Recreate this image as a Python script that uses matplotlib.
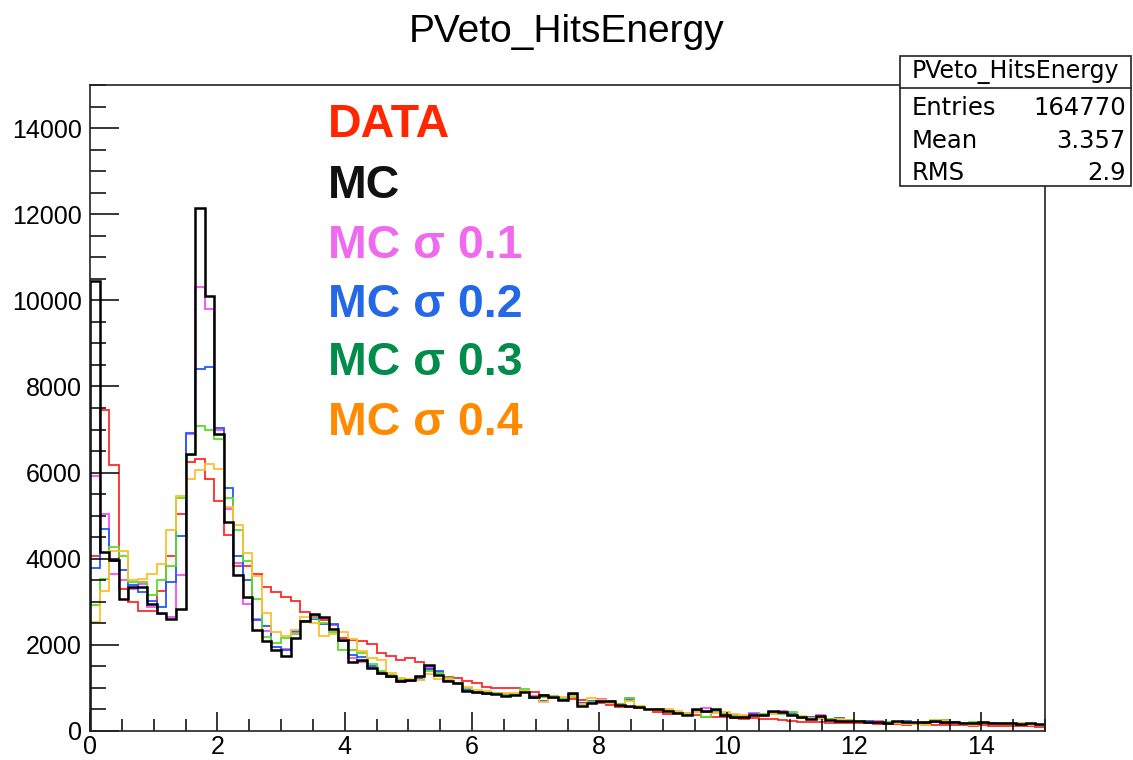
import numpy as np
import matplotlib
matplotlib.use('Agg')
import matplotlib.pyplot as plt
from matplotlib.ticker import MultipleLocator
from matplotlib.patches import Rectangle

# histogram contents, 100 bins of 0.15 from 0 to 15
data = [4060, 7450, 6180, 3300, 2990, 2790, 2780, 3250, 4060, 5050,
        6250, 6310, 5840, 5330, 4540, 3830, 3830, 3640, 3340, 3230,
        3120, 3030, 2770, 2680, 2580, 2450, 2150, 2120, 2080, 2020,
        1800, 1740, 1660, 1690, 1610, 1450, 1380, 1260, 1220, 1150,
        1110, 1030, 1010, 990, 990, 930, 910, 840, 800, 760,
        740, 720, 680, 660, 600, 565, 550, 525, 500, 450,
        395, 410, 425, 370, 335, 315, 315, 295, 285, 295,
        270, 270, 255, 230, 220, 215, 200, 195, 190, 180,
        175, 180, 165, 160, 170, 150, 155, 140, 135, 150,
        130, 140, 125, 130, 120, 125, 110, 115, 105, 95]

mc = [10450, 4150, 3980, 3070, 3340, 3340, 2950, 2740, 2600, 2840,
      6440, 12140, 10090, 6900, 4850, 3630, 3100, 2350, 2080, 1870,
      1745, 2150, 2560, 2720, 2650, 2380, 2120, 1610, 1650, 1455,
      1340, 1280, 1150, 1185, 1280, 1530, 1300, 1150, 1110, 940,
      910, 875, 860, 820, 836, 913, 797, 836, 782, 720,
      875, 581, 642, 704, 700, 604, 581, 550, 503, 519,
      472, 426, 379, 503, 472, 503, 371, 333, 333, 364,
      371, 472, 440, 371, 317, 271, 348, 255, 232, 232,
      232, 201, 201, 178, 225, 217, 201, 201, 232, 217,
      201, 186, 178, 201, 178, 193, 178, 155, 193, 155]

mc_s01 = [5920, 5050, 3640, 3500, 3300, 3420, 2890, 2720, 2640, 3630,
          6900, 10320, 9810, 7000, 5150, 3900, 2950, 2600, 2330, 1950,
          1910, 2300, 2550, 2650, 2620, 2450, 2100, 1700, 1600, 1470,
          1330, 1250, 1130, 1160, 1250, 1480, 1350, 1180, 1120, 930,
          890, 880, 860, 850, 870, 937, 820, 800, 760, 730,
          820, 640, 660, 743, 690, 610, 774, 560, 520, 500,
          470, 440, 400, 470, 526, 480, 390, 360, 340, 420,
          390, 430, 460, 380, 330, 300, 360, 280, 250, 240,
          220, 210, 230, 200, 220, 200, 190, 180, 210, 230,
          200, 170, 190, 215, 185, 170, 160, 180, 150, 140]

mc_s02 = [3790, 4700, 3950, 3730, 3400, 3230, 3030, 2880, 3460, 4530,
          6920, 8410, 8450, 7040, 5650, 4060, 3500, 2570, 2430, 1950,
          1890, 2330, 2560, 2600, 2480, 2480, 2100, 1770, 1720, 1500,
          1380, 1260, 1180, 1150, 1200, 1450, 1400, 1180, 1090, 950,
          900, 870, 850, 830, 860, 900, 770, 697, 800, 740,
          840, 650, 690, 680, 640, 620, 720, 560, 510, 490,
          470, 420, 410, 480, 450, 470, 380, 370, 350, 390,
          360, 420, 430, 390, 320, 330, 300, 270, 300, 250,
          200, 230, 210, 190, 200, 230, 190, 180, 200, 190,
          210, 180, 170, 180, 190, 160, 170, 150, 160, 130]

mc_s03 = [2920, 3540, 4270, 4060, 3460, 3460, 3160, 3510, 3830, 5410,
          6400, 7080, 7000, 6790, 5400, 4660, 3940, 3070, 2180, 2050,
          2150, 2250, 2520, 2620, 2500, 2300, 1880, 1880, 1800, 1550,
          1400, 1290, 1200, 1180, 1180, 1400, 1350, 1220, 1120, 1000,
          900, 900, 880, 840, 850, 968, 780, 790, 810, 760,
          800, 630, 670, 700, 650, 630, 774, 580, 500, 520,
          480, 450, 390, 440, 320, 440, 400, 340, 330, 360,
          400, 390, 400, 430, 310, 290, 330, 290, 260, 230,
          240, 210, 200, 210, 190, 200, 190, 200, 260, 250,
          190, 180, 200, 180, 170, 190, 175, 160, 170, 140]

mc_s04 = [2530, 3250, 4180, 4180, 3500, 3540, 3640, 3870, 4660, 5450,
          5850, 6070, 6210, 6080, 5200, 4780, 4140, 3600, 2740, 2300,
          2200, 2340, 2650, 2500, 2200, 2250, 2300, 2130, 1850, 1700,
          1650, 1350, 1230, 1200, 1180, 1320, 1200, 1200, 1100, 1020,
          960, 920, 870, 880, 880, 940, 800, 681, 790, 780,
          810, 620, 775, 720, 660, 600, 690, 590, 520, 480,
          500, 460, 420, 450, 470, 420, 440, 400, 370, 380,
          350, 400, 410, 360, 340, 310, 290, 260, 270, 250,
          210, 220, 200, 190, 180, 170, 160, 150, 250, 240,
          180, 160, 150, 200, 170, 170, 160, 180, 140, 130]

series = [("DATA", data, "#ff2a2a", 1.3),
          ("MC s0.1", mc_s01, "#f24ff2", 1.3),
          ("MC s0.2", mc_s02, "#1f5bff", 1.3),
          ("MC s0.3", mc_s03, "#5cdc2c", 1.3),
          ("MC s0.4", mc_s04, "#ffbf2e", 1.3),
          ("MC", mc, "#000000", 1.8)]

labels = ["DATA", "MC", "MC σ 0.1", "MC σ 0.2", "MC σ 0.3", "MC σ 0.4"]
label_colors = ["#ff2600", "#111111", "#f06af0", "#2468e6", "#008c4a", "#ff8a00"]

stats_title = "PVeto_HitsEnergy"
stats_rows = [("Entries", "164770"), ("Mean", "3.357"), ("RMS", "2.9")]

W, H = 1133, 760
edges = np.linspace(0, 15, 101)

plt.rcParams['font.family'] = ['Liberation Sans', 'DejaVu Sans']

fig = plt.figure(figsize=(W / 100, H / 100), dpi=100)
ax = fig.add_axes([90 / W, 1 - 731 / H, (1045 - 90) / W, (731 - 85) / H])

for name, vals, col, lw in series:
    ax.stairs(vals, edges, color=col, lw=lw)

ax.set_xlim(0, 15)
ax.set_ylim(0, 15000)
ax.xaxis.set_major_locator(MultipleLocator(2))
ax.xaxis.set_minor_locator(MultipleLocator(0.5))
ax.yaxis.set_major_locator(MultipleLocator(2000))
ax.yaxis.set_minor_locator(MultipleLocator(500))
ax.tick_params(axis='y', which='major', direction='in', length=21, width=1.1,
               labelsize=18, pad=6, right=False)
ax.tick_params(axis='y', which='minor', direction='in', length=11.5, width=1.1, right=False)
ax.tick_params(axis='x', which='major', direction='in', length=14, width=1.1,
               labelsize=18, pad=3, top=False)
ax.tick_params(axis='x', which='minor', direction='in', length=8.5, width=1.1, top=False)
for sp in ax.spines.values():
    sp.set_linewidth(1.2)
    sp.set_color('#222222')

fig.text(0.5, 1 - 32 / H, "PVeto_HitsEnergy", ha='center', va='center', fontsize=28)

# coloured legend text
baselines = [137, 198, 258, 317, 375, 435]
for txt, col, yb in zip(labels, label_colors, baselines):
    fig.text(328 / W, 1 - yb / H, txt, color=col, fontsize=33.5, fontweight='bold',
             ha='left', va='baseline')

# stats box
x0, x1, y0, y1, yh = 900, 1131, 56, 186, 88
box = Rectangle((x0 / W, 1 - y1 / H), (x1 - x0) / W, (y1 - y0) / H, transform=fig.transFigure,
                facecolor='white', edgecolor='#222222', lw=1.2, zorder=5)
fig.add_artist(box)
fig.add_artist(plt.Line2D([x0 / W, x1 / W], [1 - yh / H, 1 - yh / H], transform=fig.transFigure,
                          color='#222222', lw=1.2, zorder=6))
fig.text((x0 + x1) / 2 / W, 1 - 72 / H, stats_title, ha='center', va='center',
         fontsize=17, family='DejaVu Sans', zorder=7)
for (k, v), yb in zip(stats_rows, [115, 148, 180]):
    fig.text(912 / W, 1 - yb / H, k, ha='left', va='baseline', fontsize=17.5,
             family='DejaVu Sans', zorder=7)
    fig.text(1126 / W, 1 - yb / H, v, ha='right', va='baseline', fontsize=17.5,
             family='DejaVu Sans', zorder=7)

fig.savefig("out.png", dpi=100)
